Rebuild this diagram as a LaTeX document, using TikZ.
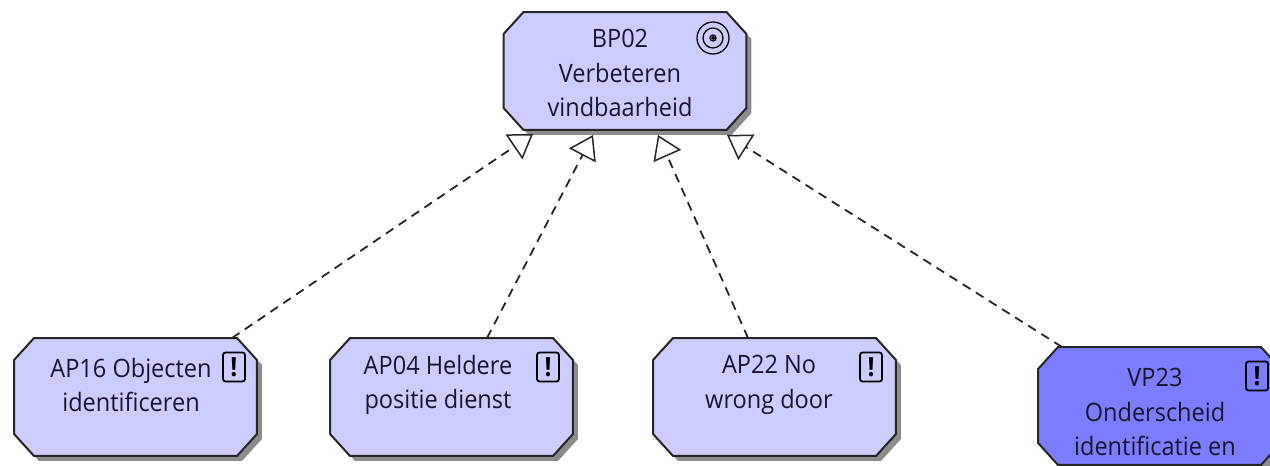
\documentclass[tikz,border=0pt]{standalone}
\usepackage{fontspec}
\setmainfont[FakeStretch=0.93]{Open Sans}
\usetikzlibrary{arrows.meta,shadows}
\definecolor{paleblue}{HTML}{CCCCFF}
\definecolor{deepblue}{HTML}{7C7CFF}
\definecolor{inkblue}{HTML}{1C1433}
\tikzset{
  element/.style={rectangle, inner sep=0pt, outer sep=0pt, minimum width=4.86cm, minimum height=2.36cm},
  outline/.style={draw=black!85, line width=0.04cm,
    drop shadow={shadow xshift=0.1cm, shadow yshift=-0.1cm, fill=black!60, opacity=0.75}},
  caption/.style={align=center, inner sep=0pt, text=inkblue, font=\fontsize{14.4}{19.8}\selectfont},
  warnbox/.style={draw=black, line width=0.035cm, rounded corners=0.05cm, minimum width=0.44cm, minimum height=0.58cm,
    inner sep=0pt, font=\fontsize{15}{15}\selectfont\bfseries},
  realizes/.style={line width=0.036cm, draw=black!85, dash pattern=on 0.18cm off 0.13cm,
    -{Triangle[open, length=0.46cm, width=0.6cm, line width=0.03cm]}}
}
\begin{document}
\begin{tikzpicture}[x=0.02cm, y=-0.02cm]
\useasboundingbox (0, 0) rectangle (1270, 466);
\node[element] (bp02) at (625, 71) {};
\node[element] (ap16) at (135.5, 397) {};
\node[element] (ap04) at (451.5, 397) {};
\node[element] (ap22) at (774.5, 397) {};
\node[element] (vp23) at (1159.5, 406) {};
\foreach \name/\tint in {bp02/paleblue, ap16/paleblue, ap04/paleblue, ap22/paleblue, vp23/deepblue}
  \draw[outline, fill=\tint] ([shift={(20, 0)}]\name.north west) -- ([shift={(-20, 0)}]\name.north east)
    -- ([shift={(0, 22)}]\name.north east) -- ([shift={(0, -22)}]\name.south east)
    -- ([shift={(-20, 0)}]\name.south east) -- ([shift={(20, 0)}]\name.south west)
    -- ([shift={(0, -22)}]\name.south west) -- ([shift={(0, 22)}]\name.north west) -- cycle;
\node[caption] (bp02text) at (620, 73) {BP02\\Verbeteren\\vindbaarheid};
\node[caption] (ap16text) at (131, 385) {AP16 Objecten\\identificeren};
\node[caption] (ap04text) at (438, 385) {AP04 Heldere\\positie dienst};
\node[caption] (ap22text) at (769, 385) {AP22 No\\wrong door};
\node[caption] (vp23text) at (1155, 412) {VP23\\Onderscheid\\identificatie en};
\node[warnbox] (ap16warn) at (234, 367) {!};
\node[warnbox] (ap04warn) at (548, 367) {!};
\node[warnbox] (ap22warn) at (871, 367) {!};
\node[warnbox] (vp23warn) at (1257, 376) {!};
\node[circle, draw=black, line width=0.025cm, inner sep=0pt, minimum size=0.12cm] (bp02goal) at (713, 38) {};
\draw[black, line width=0.025cm] (bp02goal) circle (16) (bp02goal) circle (10);
\filldraw (bp02goal) circle (1.5);
\draw[realizes] ([shift={(96.5, 0)}]ap16.north) -- ([shift={(-92, 4)}]bp02.south);
\draw[realizes] ([shift={(35.5, 0)}]ap04.north) -- ([shift={(-32, 5)}]bp02.south);
\draw[realizes] ([shift={(-26.5, 0)}]ap22.north) -- ([shift={(33, 5)}]bp02.south);
\draw[realizes] ([shift={(-97.5, 0)}]vp23.north) -- ([shift={(102, 5)}]bp02.south);
\end{tikzpicture}
\end{document}
